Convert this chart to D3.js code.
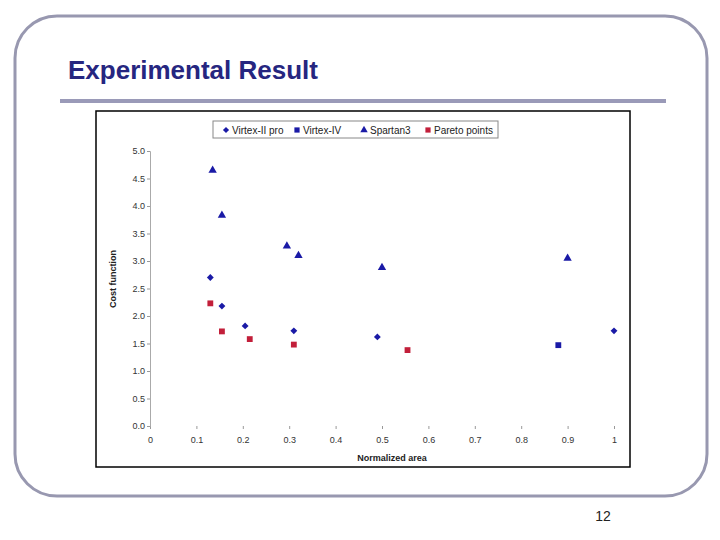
<!DOCTYPE html>
<html><head><meta charset="utf-8">
<script src="https://cdn.jsdelivr.net/npm/d3@7"></script>
<style>body{margin:0;background:#fff}</style>
</head><body>
<svg id="c" width="720" height="540"></svg>
<script>
const virtex2pro = [[0.13,2.70],[0.155,2.18],[0.205,1.82],[0.31,1.73],[0.49,1.62],[1.0,1.73]];
const virtex4 = [[0.88,1.47]];
const spartan3 = [[0.135,4.65],[0.155,3.83],[0.295,3.27],[0.32,3.10],[0.50,2.88],[0.90,3.05]];
const pareto = [[0.13,2.23],[0.155,1.72],[0.215,1.58],[0.31,1.48],[0.555,1.38]];
const xTicks = [0,0.1,0.2,0.3,0.4,0.5,0.6,0.7,0.8,0.9,1];
const yTicks = [0,0.5,1,1.5,2,2.5,3,3.5,4,4.5,5];

const svg = d3.select('#c');
const blue = '#1a1aa6', red = '#c21f3a';

// slide frame
svg.append('rect').attr('x',15).attr('y',16).attr('width',692).attr('height',480)
  .attr('rx',42).attr('fill','none').attr('stroke','#9898b0').attr('stroke-width',3);
svg.append('text').attr('x',68).attr('y',79).text('Experimental Result')
  .attr('font-family','Liberation Sans, Arial').attr('font-weight','bold').attr('font-size',26).attr('fill','#262680');
svg.append('line').attr('x1',60).attr('x2',666).attr('y1',101).attr('y2',101)
  .attr('stroke','#9a9ab8').attr('stroke-width',4);
svg.append('text').attr('x',603).attr('y',521).attr('text-anchor','middle').text('12')
  .attr('font-family','Liberation Sans, Arial').attr('font-size',14).attr('fill','#222');

// chart box
svg.append('rect').attr('x',96).attr('y',111).attr('width',534).attr('height',356)
  .attr('fill','#fff').attr('stroke','#000').attr('stroke-width',1.5);

const x = d3.scaleLinear().domain([0,1]).range([150,614]);
const y = d3.scaleLinear().domain([0,5]).range([426,151]);
const font = 'Liberation Sans, Arial';

const gx = svg.append('g').attr('transform','translate(0,426)')
  .call(d3.axisBottom(x).tickValues(xTicks).tickSize(3).tickPadding(8).tickFormat(d=>d===0||d===1?d3.format('d')(d):d3.format('.1f')(d)));
const gy = svg.append('g').attr('transform','translate(150,0)')
  .call(d3.axisLeft(y).tickValues(yTicks).tickSize(3).tickPadding(2).tickFormat(d3.format('.1f')));
[gx,gy].forEach(g=>{
  g.selectAll('text').attr('font-family',font).attr('font-size',9).attr('fill','#333');
  g.selectAll('line').attr('stroke','#999');
});
gx.select('.domain').remove();
gy.select('.domain').attr('stroke','#aaa');

svg.append('text').attr('x',392).attr('y',461).attr('text-anchor','middle').text('Normalized area')
  .attr('font-family',font).attr('font-weight','bold').attr('font-size',9).attr('fill','#222');
svg.append('text').attr('transform','translate(116,279) rotate(-90)').attr('text-anchor','middle').text('Cost function')
  .attr('font-family',font).attr('font-weight','bold').attr('font-size',9).attr('fill','#222');

const series = [
  {name:'Virtex-II pro', data:virtex2pro, sym:d3.symbolDiamond2, size:30, color:blue},
  {name:'Virtex-IV', data:virtex4, sym:d3.symbolSquare, size:34, color:blue},
  {name:'Spartan3', data:spartan3, sym:d3.symbolTriangle, size:30, color:blue},
  {name:'Pareto points', data:pareto, sym:d3.symbolSquare, size:34, color:red}
];
series.forEach(s=>{
  svg.append('g').selectAll('path').data(s.data).join('path')
    .attr('transform',d=>`translate(${x(d[0])},${y(d[1])})`)
    .attr('d',d3.symbol(s.sym,s.size)).attr('fill',s.color);
});

// legend
const lg = svg.append('g');
lg.append('rect').attr('x',213).attr('y',121).attr('width',285).attr('height',17)
  .attr('fill','#fff').attr('stroke','#888');
const lx = [226,297,364,428];
series.forEach((s,i)=>{
  lg.append('path').attr('transform',`translate(${lx[i]},130)`).attr('d',d3.symbol(s.sym,s.size*0.8)).attr('fill',s.color);
  lg.append('text').attr('x',lx[i]+6).attr('y',133.5).text(s.name)
    .attr('font-family',font).attr('font-size',10).attr('fill','#222');
});
</script>
</body></html>
